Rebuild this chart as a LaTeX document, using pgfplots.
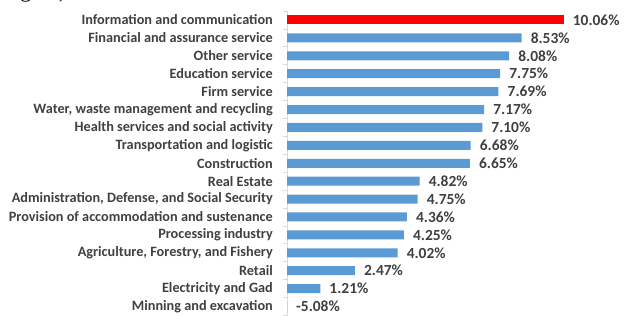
\documentclass[border=0pt]{standalone}
\usepackage{pgfplots}
\pgfplotsset{compat=1.18}
\usepackage{fontspec}
\setmainfont{Carlito}
\newfontfamily\serifcap{Liberation Serif}
\definecolor{barblue}{HTML}{5B9BD5}
\definecolor{barred}{HTML}{FF0000}
\definecolor{txt}{HTML}{404040}
\definecolor{axgray}{HTML}{D9D9D9}
\begin{document}
\begin{tikzpicture}
\useasboundingbox (0,0) rectangle (624bp,316bp);
\clip (0,0) rectangle (624bp,316bp);
\node[anchor=base west, inner sep=0pt, font=\serifcap\fontsize{22}{24}\selectfont] at (14bp,318bp) {igure)};
\begin{axis}[
  at={(287bp,305bp)}, anchor=north west,
  scale only axis,
  width=330bp, height=304.5bp,
  xmin=0, xmax=12,
  ymin=-0.5, ymax=16.5,
  y dir=reverse,
  axis x line=none,
  axis y line*=left,
  axis line style={axgray, line width=0.8pt},
  ytick={0,...,16},
  major tick length=0pt,
  minor ytick={-0.5,0.5,...,16.5},
  minor tick length=4bp,
  tick align=outside,
  minor tick style={axgray, line width=0.8pt},
  yticklabels={
    Information and communication,
    Financial and assurance service,
    Other service,
    Education service,
    Firm service,
    {Water, waste management and recycling},
    Health services and social activity,
    Transportation and logistic,
    Construction,
    Real Estate,
    {Administration, Defense, and Social Security},
    Provision of accommodation and sustenance,
    Processing industry,
    {Agriculture, Forestry, and Fishery},
    Retail,
    Electricity and Gad,
    Minning and excavation},
  y tick label style={font=\bfseries\fontsize{14.3}{16}\selectfont, text=txt, inner sep=0pt, anchor=east},
  yticklabel shift=14bp,
  xbar, bar width=9bp, bar shift=0pt,
  point meta=explicit symbolic,
  nodes near coords,
  nodes near coords align=horizontal,
  every node near coord/.append style={font=\bfseries\fontsize{15.5}{17}\selectfont, text=txt, inner sep=0pt, anchor=west, xshift=9bp},
  clip=false,
]
\addplot[fill=barred, draw=none] coordinates {(10.06,0) [10.06\%]};
\addplot[fill=barblue, draw=none] coordinates {
  (8.53,1) [8.53\%]
  (8.08,2) [8.08\%]
  (7.75,3) [7.75\%]
  (7.69,4) [7.69\%]
  (7.17,5) [7.17\%]
  (7.10,6) [7.10\%]
  (6.68,7) [6.68\%]
  (6.65,8) [6.65\%]
  (4.82,9) [4.82\%]
  (4.75,10) [4.75\%]
  (4.36,11) [4.36\%]
  (4.25,12) [4.25\%]
  (4.02,13) [4.02\%]
  (2.47,14) [2.47\%]
  (1.21,15) [1.21\%]
};
\addplot[fill=barblue, draw=none] coordinates {(0,16) [-5.08\%]};
\end{axis}
\end{tikzpicture}
\end{document}
